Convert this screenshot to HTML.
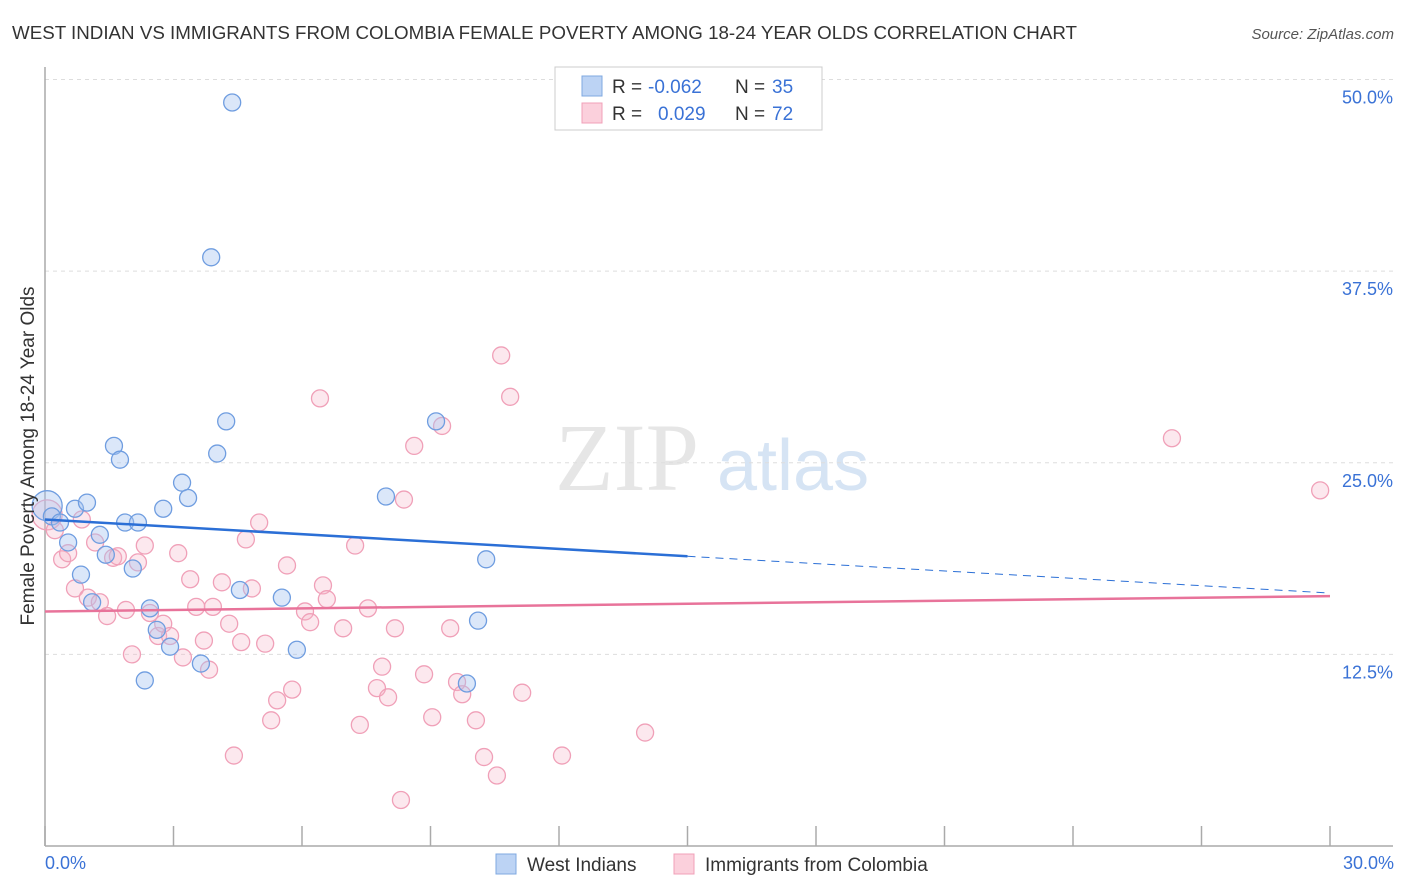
<!DOCTYPE html>
<html><head><meta charset="utf-8"><style>
body{margin:0;background:#fff;font-family:"Liberation Sans",sans-serif;}
svg{display:block}
</style></head><body>
<svg id="chart" width="1406" height="892" xmlns="http://www.w3.org/2000/svg">
<text x="12" y="39" font-size="18" fill="#333" textLength="1065" lengthAdjust="spacingAndGlyphs">WEST INDIAN VS IMMIGRANTS FROM COLOMBIA FEMALE POVERTY AMONG 18-24 YEAR OLDS CORRELATION CHART</text>
<text x="1394" y="39" font-size="15" fill="#555" font-style="italic" text-anchor="end">Source: ZipAtlas.com</text>
<text x="555" y="490" font-size="96" fill="#e6e6e6" font-family="Liberation Serif">ZIP</text>
<text x="717" y="490" font-size="72" fill="#d6e4f4">atlas</text>
<g id="grid"></g>
<g id="axes"></g>
<g id="pts"></g>
<g id="trends"></g>
<text transform="translate(34,456) rotate(-90)" font-size="19" fill="#333" text-anchor="middle">Female Poverty Among 18-24 Year Olds</text>
<text x="45" y="869" font-size="18" fill="#3a72d6">0.0%</text>
<text x="1394" y="869" font-size="18" fill="#3a72d6" text-anchor="end">30.0%</text>
<g>
<rect x="555" y="67" width="267" height="63" fill="#fff" stroke="#ccc"/>
<rect x="582" y="76" width="20" height="20" fill="#bcd3f4" stroke="#7fa8e0"/>
<rect x="582" y="103" width="20" height="20" fill="#fbd0dc" stroke="#f0a0b8"/>
<text x="612" y="93" font-size="19" fill="#333">R =</text>
<text x="648" y="93" font-size="19" fill="#3a72d6">-0.062</text>
<text x="735" y="93" font-size="19" fill="#333">N =</text>
<text x="772" y="93" font-size="19" fill="#3a72d6">35</text>
<text x="612" y="120" font-size="19" fill="#333">R =</text>
<text x="658" y="120" font-size="19" fill="#3a72d6">0.029</text>
<text x="735" y="120" font-size="19" fill="#333">N =</text>
<text x="772" y="120" font-size="19" fill="#3a72d6">72</text>
</g>
<g>
<rect x="496" y="854" width="20" height="20" fill="#bcd3f4" stroke="#7fa8e0"/>
<text x="527" y="871" font-size="19" fill="#333">West Indians</text>
<rect x="674" y="854" width="20" height="20" fill="#fbd0dc" stroke="#f0a0b8"/>
<text x="705" y="871" font-size="19" fill="#333">Immigrants from Colombia</text>
</g>
</svg>
<script>
const yTicks=[12.5,25.0,37.5,50.0];
const xTicks=[0,3,6,9,12,15,18,21,24,27,30];
const blueX=[0.05,0.16,0.35,0.70,0.98,0.54,1.28,0.84,1.10,1.42,1.61,1.75,1.87,2.17,2.05,2.45,2.61,2.76,2.92,2.33,3.20,3.34,3.64,3.88,4.37,4.02,4.23,4.55,5.53,5.88,7.96,9.13,10.30,10.11,9.85];
const blueY=[22.2,21.5,21.1,22.0,22.4,19.8,20.3,17.7,15.9,19.0,26.1,25.2,21.1,21.1,18.1,15.5,14.1,22.0,13.0,10.8,23.7,22.7,11.9,38.4,48.5,25.6,27.7,16.7,16.2,12.8,22.8,27.7,18.7,14.7,10.6];
const pinkX=[0.05,0.23,0.40,0.54,0.70,0.86,1.00,1.17,1.28,1.45,1.59,1.70,1.89,2.03,2.17,2.33,2.45,2.64,2.76,2.92,3.11,3.22,3.39,3.53,3.71,3.83,3.92,4.13,4.30,4.41,4.58,4.69,4.83,5.00,5.14,5.28,5.42,5.65,5.77,6.07,6.19,6.42,6.49,6.58,6.96,7.24,7.35,7.54,7.75,7.87,8.01,8.17,8.31,8.38,8.62,8.85,9.04,9.27,9.46,9.62,9.74,10.06,10.25,10.55,10.65,10.86,11.14,12.07,14.01,26.31,29.77];
const pinkY=[21.6,20.6,18.7,19.1,16.8,21.3,16.2,19.8,15.9,15.0,18.8,18.9,15.4,12.5,18.5,19.6,15.2,13.7,14.5,13.7,19.1,12.3,17.4,15.6,13.4,11.5,15.6,17.2,14.5,5.9,13.3,20.0,16.8,21.1,13.2,8.2,9.5,18.3,10.2,15.3,14.6,29.2,17.0,16.1,14.2,19.6,7.9,15.5,10.3,11.7,9.7,14.2,3.0,22.6,26.1,11.2,8.4,27.4,14.2,10.7,9.9,8.2,5.8,4.6,32.0,29.3,10.0,5.9,7.4,26.6,23.2];
const blueTrend=[21.3,16.5];
const pinkTrend=[15.3,16.3];
const NS="http://www.w3.org/2000/svg";
const X=v=>45+v*(1285/30), Y=v=>846-v*15.33;
function mk(p,t,a){const e=document.createElementNS(NS,t);for(const k in a)e.setAttribute(k,a[k]);document.getElementById(p).appendChild(e);return e;}
yTicks.forEach(t=>{
 const l=mk('grid','line',{x1:45,x2:1393,y1:Y(t),y2:Y(t),stroke:'#ddd','stroke-dasharray':'4,4'});
 
 
 const tx=mk('grid','text',{x:1393,y:Y(t)+24,'font-size':18,fill:'#3a72d6','text-anchor':'end'});
 tx.textContent=t.toFixed(1)+'%';
 
 
});
let ax=mk('axes','line',{x1:45,x2:1393,y1:846,y2:846,stroke:'#aaa','stroke-width':1.5});


ax=mk('axes','line',{x1:45,x2:45,y1:67,y2:846,stroke:'#aaa','stroke-width':1.5});


xTicks.forEach(t=>{
 const l=mk('axes','line',{x1:X(t),x2:X(t),y1:826,y2:846,stroke:'#aaa','stroke-width':1.5});
 
 
});
pinkX.forEach((x,i)=>{
 const c=mk('pts','circle',{cx:X(x),cy:Y(pinkY[i]),r:i==0?15:8.5,fill:'rgba(246,178,198,0.3)',stroke:'#f0a0b8','stroke-width':1.3});
 
 
});
blueX.forEach((x,i)=>{
 const c=mk('pts','circle',{cx:X(x),cy:Y(blueY[i]),r:i==0?15:8.5,fill:'rgba(164,196,240,0.4)',stroke:'#6f9de0','stroke-width':1.3});
 
 
});
const bm=blueTrend[0]+(blueTrend[1]-blueTrend[0])*0.5;
let t=mk('trends','line',{x1:X(0),y1:Y(blueTrend[0]),x2:X(15),y2:Y(bm),stroke:'#2b6fd6','stroke-width':2.5});


t=mk('trends','line',{x1:X(15),y1:Y(bm),x2:X(30),y2:Y(blueTrend[1]),stroke:'#2b6fd6','stroke-width':1,'stroke-dasharray':'8,6'});


t=mk('trends','line',{x1:X(0),y1:Y(pinkTrend[0]),x2:X(30),y2:Y(pinkTrend[1]),stroke:'#e8739a','stroke-width':2.5});


</script>
</body></html>
